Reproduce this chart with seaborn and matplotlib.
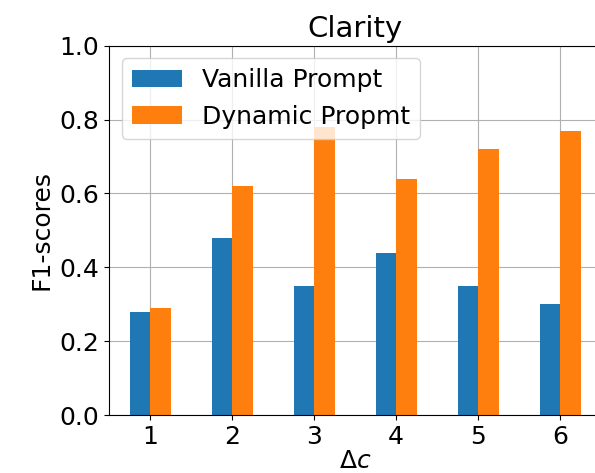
import matplotlib
matplotlib.use("Agg")
import matplotlib.pyplot as plt
import seaborn as sns
import pandas as pd

# F1-scores per delta-c step for the two prompting strategies
delta_c = [1, 2, 3, 4, 5, 6]
vanilla_scores = [0.28, 0.48, 0.35, 0.44, 0.35, 0.30]
dynamic_scores = [0.29, 0.62, 0.78, 0.64, 0.72, 0.77]
series_names = ["Vanilla Prompt", "Dynamic Propmt"]
series_colors = ["#1f77b4", "#ff7f0e"]

df = pd.DataFrame({
    "delta_c": delta_c * 2,
    "score": vanilla_scores + dynamic_scores,
    "prompt": [series_names[0]] * len(delta_c) + [series_names[1]] * len(delta_c),
})

plt.rcParams["font.family"] = ["DejaVu Sans"]
plt.rcParams["font.size"] = 18
plt.rcParams["axes.axisbelow"] = True

fig = plt.figure(figsize=(5.95, 4.73), dpi=100)
# axes run slightly past the right edge of the canvas
ax = fig.add_axes([0.1832, 0.1226, 0.827, 0.7808])

sns.barplot(data=df, x="delta_c", y="score", hue="prompt",
            hue_order=series_names, palette=series_colors,
            width=0.5, linewidth=0, saturation=1, ax=ax)

ax.set_xlim(-0.5, 5.5)
ax.set_ylim(0, 1.0)
ax.set_yticks([0.0, 0.2, 0.4, 0.6, 0.8, 1.0])
ax.grid(True, color="#b0b0b0", linewidth=0.8)
ax.set_title("Clarity", fontsize=21)
ax.set_xlabel(r"$\Delta c$", labelpad=0)
ax.set_ylabel("F1-scores")
ax.legend(loc="upper left", title=None, framealpha=0.8)

fig.savefig("out.png", dpi=100)
